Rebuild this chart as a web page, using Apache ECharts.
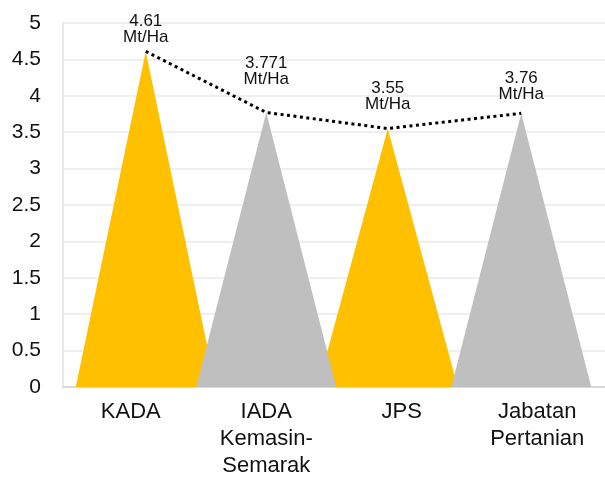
<!DOCTYPE html>
<html>
<head>
<meta charset="utf-8">
<script src="https://cdn.jsdelivr.net/npm/echarts@6/dist/echarts.min.js"></script>
<style>html,body{margin:0;padding:0;background:#fff}#c{width:605px;height:479px}</style>
</head>
<body>
<div id="c"></div>
<script>
var categories = ['KADA', 'IADA\nKemasin-\nSemarak', 'JPS', 'Jabatan\nPertanian'];
var yellowValues = [4.61, '-', 3.55, '-'];
var grayValues = ['-', 3.771, '-', 3.76];
var lineValues = [4.61, 3.771, 3.55, 3.76];
var labelTexts = ['4.61\nMt/Ha', '3.771\nMt/Ha', '3.55\nMt/Ha', '3.76\nMt/Ha'];
var yTicks = [0, 0.5, 1, 1.5, 2, 2.5, 3, 3.5, 4, 4.5, 5];

// layout (pixels)
var peakShift = [15, 0, -14, -16];
var labelGap = [6, 25, 16, 11];

function items(vals) {
  return vals.map(function (v, i) {
    if (v === '-') return '-';
    return {
      value: v,
      symbolOffset: [peakShift[i], 0],
      label: {show: true, position: 'top', distance: labelGap[i], offset: [peakShift[i], 0], formatter: labelTexts[i]}
    };
  });
}

var chart = echarts.init(document.getElementById('c'));
var labelStyle = {color: '#111', fontFamily: 'Liberation Sans, Arial, sans-serif', fontSize: 17, lineHeight: 16};
chart.setOption({
  animation: false,
  grid: {left: 63, right: 0, top: 23, bottom: 90},
  xAxis: {
    type: 'category', data: categories,
    axisLine: {lineStyle: {color: '#d9d9d9', width: 2}},
    axisTick: {show: false},
    axisLabel: {color: '#111', fontFamily: 'Liberation Sans, Arial, sans-serif', fontSize: 22, lineHeight: 27, margin: 11, interval: 0}
  },
  yAxis: {
    type: 'value', min: yTicks[0], max: yTicks[yTicks.length - 1], interval: 0.5,
    axisLine: {show: true, lineStyle: {color: '#e8e8e8', width: 2}},
    axisTick: {show: false},
    splitLine: {lineStyle: {color: '#efefef', width: 2}},
    axisLabel: {color: '#111', fontFamily: 'Liberation Sans, Arial, sans-serif', fontSize: 21, margin: 22}
  },
  series: [
    {
      type: 'pictorialBar', symbol: 'triangle', symbolSize: [140, '100%'],
      barWidth: '100%', barGap: '-100%', z: 2,
      itemStyle: {color: '#FFC000'},
      label: labelStyle,
      data: items(yellowValues)
    },
    {
      type: 'pictorialBar', symbol: 'triangle', symbolSize: [140, '100%'],
      barWidth: '100%', barGap: '-100%', z: 3,
      itemStyle: {color: '#BFBFBF'},
      label: labelStyle,
      data: items(grayValues)
    },
    {
      type: 'custom', z: 5, silent: true,
      data: [0],
      renderItem: function (params, api) {
        var pts = lineValues.map(function (v, i) {
          var p = api.coord([i, v]);
          return [p[0] + peakShift[i], p[1]];
        });
        return {
          type: 'polyline',
          shape: {points: pts},
          style: {stroke: '#000', lineWidth: 3, fill: null, lineDash: [3, 3.5]}
        };
      }
    }
  ]
});
</script>
</body>
</html>
